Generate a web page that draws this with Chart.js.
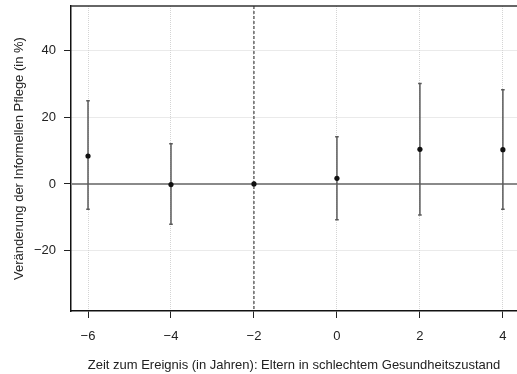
<!DOCTYPE html>
<html lang="de">
<head>
<meta charset="utf-8">
<title>Informelle Pflege – Ereignisstudie</title>
<script src="https://cdn.jsdelivr.net/npm/chart.js@4.4.1/dist/chart.umd.min.js"></script>
<style>
  html, body { margin: 0; padding: 0; background: #fff; }
  #wrap { width: 517px; height: 374px; }
</style>
</head>
<body>
<div id="wrap"><canvas id="chart" width="517" height="374"></canvas></div>
<script>
// Werte
const zeiten = [-6, -4, -2, 0, 2, 4];
const schaetzer = [8.4, -0.2, 0, 1.7, 10.4, 10.3];
const untereGrenze = [-7.6, -12.1, null, -10.8, -9.3, -7.6];
const obereGrenze = [25.0, 12.1, null, 14.2, 30.2, 28.3];

const xTicks = [-6, -4, -2, 0, 2, 4];
const yTicks = [-20, 0, 20, 40];
const referenzJahr = -2;

const xTitel = 'Zeit zum Ereignis (in Jahren): Eltern in schlechtem Gesundheitszustand';
const yTitel = 'Veränderung der Informellen Pflege (in %)';

const FONT = "'Liberation Sans', Arial, Helvetica, sans-serif";

function minusZeichen(v) {
  return v < 0 ? '\u2212' + Math.abs(v) : String(v);
}

// Nulllinie, Referenzlinie, Konfidenzintervalle und obere Rahmenlinie
const zusatzPlugin = {
  id: 'zusatz',
  beforeDatasetsDraw(chart) {
    const { ctx, chartArea, scales } = chart;
    const x = scales.x;
    const y = scales.y;
    ctx.save();

    // Nulllinie
    const y0 = y.getPixelForValue(0);
    ctx.strokeStyle = '#8a8a8a';
    ctx.lineWidth = 2;
    ctx.beginPath();
    ctx.moveTo(chartArea.left, y0);
    ctx.lineTo(chartArea.right, y0);
    ctx.stroke();

    // gestrichelte Referenzlinie
    const xr = x.getPixelForValue(referenzJahr);
    ctx.strokeStyle = '#222';
    ctx.lineWidth = 1;
    ctx.setLineDash([3, 2]);
    ctx.beginPath();
    ctx.moveTo(xr, chartArea.top);
    ctx.lineTo(xr, chartArea.bottom);
    ctx.stroke();
    ctx.setLineDash([]);

    // Fehlerbalken
    ctx.strokeStyle = '#5a5a5a';
    ctx.lineWidth = 1.5;
    zeiten.forEach((t, i) => {
      if (untereGrenze[i] == null || obereGrenze[i] == null) return;
      const px = x.getPixelForValue(t);
      const yl = y.getPixelForValue(untereGrenze[i]);
      const yh = y.getPixelForValue(obereGrenze[i]);
      ctx.beginPath();
      ctx.moveTo(px, yl);
      ctx.lineTo(px, yh);
      ctx.moveTo(px - 1.8, yl);
      ctx.lineTo(px + 1.8, yl);
      ctx.moveTo(px - 1.8, yh);
      ctx.lineTo(px + 1.8, yh);
      ctx.stroke();
    });
    ctx.restore();
  },
  afterDraw(chart) {
    const { ctx, chartArea } = chart;
    ctx.save();
    ctx.strokeStyle = '#333';
    ctx.lineWidth = 1.5;
    ctx.beginPath();
    ctx.moveTo(chartArea.left, chartArea.top);
    ctx.lineTo(chartArea.right, chartArea.top);
    ctx.stroke();
    ctx.restore();
  }
};

const punkte = zeiten.map((t, i) => ({ x: t, y: schaetzer[i] }));

new Chart(document.getElementById('chart').getContext('2d'), {
  type: 'scatter',
  data: {
    datasets: [{
      label: 'Schätzer',
      data: punkte,
      backgroundColor: '#111',
      borderColor: '#111',
      pointRadius: 2.6,
      pointHoverRadius: 2.6,
      borderWidth: 0
    }]
  },
  options: {
    responsive: false,
    animation: false,
    devicePixelRatio: 1,
    layout: { autoPadding: false, padding: { top: 6, right: 0, left: 0, bottom: 0 } },
    plugins: {
      legend: { display: false },
      tooltip: { enabled: false }
    },
    scales: {
      x: {
        type: 'linear',
        min: -6.41,
        max: 4.34,
        afterBuildTicks: (scale) => { scale.ticks = xTicks.map((v) => ({ value: v })); },
        afterFit: (scale) => {
          scale.height = 63;
          scale.paddingLeft = 0;
          scale.paddingRight = 0;
        },
        ticks: {
          callback: (v) => minusZeichen(v),
          font: { family: FONT, size: 13 },
          color: '#222',
          padding: 11,
          maxRotation: 0
        },
        grid: {
          color: '#d4d4d4',
          lineWidth: 1,
          tickColor: '#222',
          tickLength: 7,
          tickWidth: 1,
          tickBorderDash: []
        },
        border: { display: true, color: '#111', width: 1.5, dash: [1, 1] },
        title: {
          display: true,
          text: xTitel,
          font: { family: FONT, size: 13 },
          color: '#222',
          padding: { top: 0, bottom: 1 }
        }
      },
      y: {
        type: 'linear',
        min: -38.2,
        max: 53.5,
        afterBuildTicks: (scale) => { scale.ticks = yTicks.map((v) => ({ value: v })); },
        afterFit: (scale) => {
          scale.width = 71;
          scale.paddingTop = 0;
          scale.paddingBottom = 0;
        },
        ticks: {
          callback: (v) => minusZeichen(v),
          font: { family: FONT, size: 13 },
          color: '#222',
          padding: 8
        },
        grid: {
          color: (c) => (c.tick && c.tick.value === 0 ? 'rgba(0,0,0,0)' : '#d4d4d4'),
          lineWidth: 1,
          tickColor: '#222',
          tickLength: 7,
          tickWidth: 1,
          tickBorderDash: []
        },
        border: { display: true, color: '#111', width: 1.5, dash: [1, 1] },
        title: {
          display: true,
          text: yTitel,
          font: { family: FONT, size: 13 },
          color: '#222',
          padding: { top: 12, bottom: 0 }
        }
      }
    }
  },
  plugins: [zusatzPlugin]
});
</script>
</body>
</html>
